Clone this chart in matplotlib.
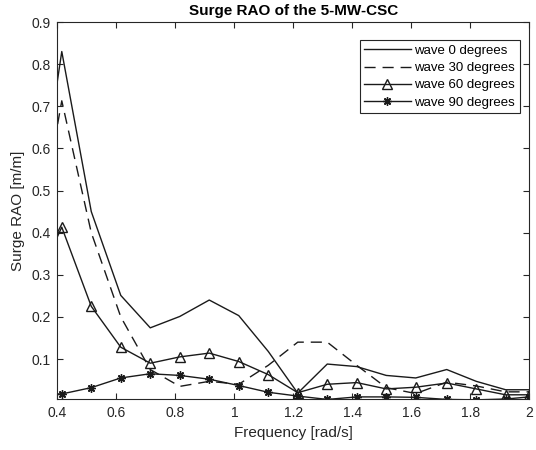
import matplotlib as mpl
from matplotlib import pyplot as plt

mpl.rcParams["font.family"] = ["Liberation Sans", "DejaVu Sans"]

# Frequencies [rad/s] (first point lies left of the visible range)
FREQ = [0.315, 0.415, 0.515, 0.615, 0.715, 0.815, 0.915, 1.015, 1.115,
        1.215, 1.315, 1.415, 1.515, 1.615, 1.72, 1.82, 1.92, 2.0]

RAO_0 = [0.36, 0.83, 0.45, 0.251, 0.174, 0.201, 0.240, 0.203, 0.118,
         0.019, 0.088, 0.082, 0.061, 0.055, 0.075, 0.047, 0.027, 0.027]
RAO_30 = [0.32, 0.713, 0.40, 0.20, 0.075, 0.035, 0.047, 0.040, 0.085,
          0.14, 0.14, 0.085, 0.032, 0.018, 0.045, 0.036, 0.022, 0.022]
RAO_60 = [0.26, 0.413, 0.225, 0.128, 0.090, 0.105, 0.114, 0.094, 0.063,
          0.020, 0.040, 0.044, 0.029, 0.033, 0.043, 0.029, 0.015, 0.015]
RAO_90 = [0.017, 0.017, 0.032, 0.055, 0.065, 0.061, 0.052, 0.037, 0.021,
          0.012, 0.004, 0.010, 0.010, 0.009, 0.004, 0.003, 0.005, 0.010]

LABELS = ["wave 0 degrees", "wave 30 degrees", "wave 60 degrees",
          "wave 90 degrees"]


def main():
    fig = plt.figure(figsize=(5.36, 4.5), dpi=100)
    ax = fig.add_axes([0.107, 0.1133, 0.8805, 0.8377])
    col = "#1a1a1a"
    ax.plot(FREQ, RAO_0, color=col, lw=1.0, label=LABELS[0])
    ax.plot(FREQ, RAO_30, color=col, lw=1.0, ls=(0, (8, 5)), label=LABELS[1])
    ax.plot(FREQ, RAO_60, color=col, lw=1.0, marker="^", ms=7,
            mfc="none", mec=col, mew=1.0, label=LABELS[2])
    ax.plot(FREQ, RAO_90, color=col, lw=1.0, marker=(8, 2, 0), ms=6,
            mec=col, mew=1.0, label=LABELS[3])

    ax.set_xlim(0.4, 2.0)
    ax.set_ylim(0.005, 0.9)
    ax.set_xticks([0.4, 0.6, 0.8, 1.0, 1.2, 1.4, 1.6, 1.8, 2.0])
    ax.set_xticklabels(["0.4", "0.6", "0.8", "1", "1.2", "1.4", "1.6", "1.8", "2"])
    ax.set_yticks([0.1, 0.2, 0.3, 0.4, 0.5, 0.6, 0.7, 0.8, 0.9])
    ax.tick_params(direction="in", top=True, right=True, length=4,
                   labelsize=10, color="#262626", labelcolor="#262626", pad=5)
    for sp in ax.spines.values():
        sp.set_color("#262626")
        sp.set_linewidth(0.8)

    ax.set_xlabel("Frequency [rad/s]", fontsize=11, color="#262626")
    ax.set_ylabel("Surge RAO [m/m]", fontsize=11, color="#262626")
    ax.set_title("Surge RAO of the 5-MW-CSC", fontsize=11, fontweight="bold",
                 pad=5)

    leg = ax.legend(loc="upper right", bbox_to_anchor=(0.98, 0.952),
                    fontsize=9.5, handlelength=3.5, fancybox=False,
                    framealpha=1, edgecolor="#262626", borderpad=0.35,
                    labelspacing=0.38, handletextpad=0.3, borderaxespad=0)
    leg.get_frame().set_linewidth(0.8)

    fig.savefig("out.png", dpi=100)
    plt.close(fig)


if __name__ == "__main__":
    main()
